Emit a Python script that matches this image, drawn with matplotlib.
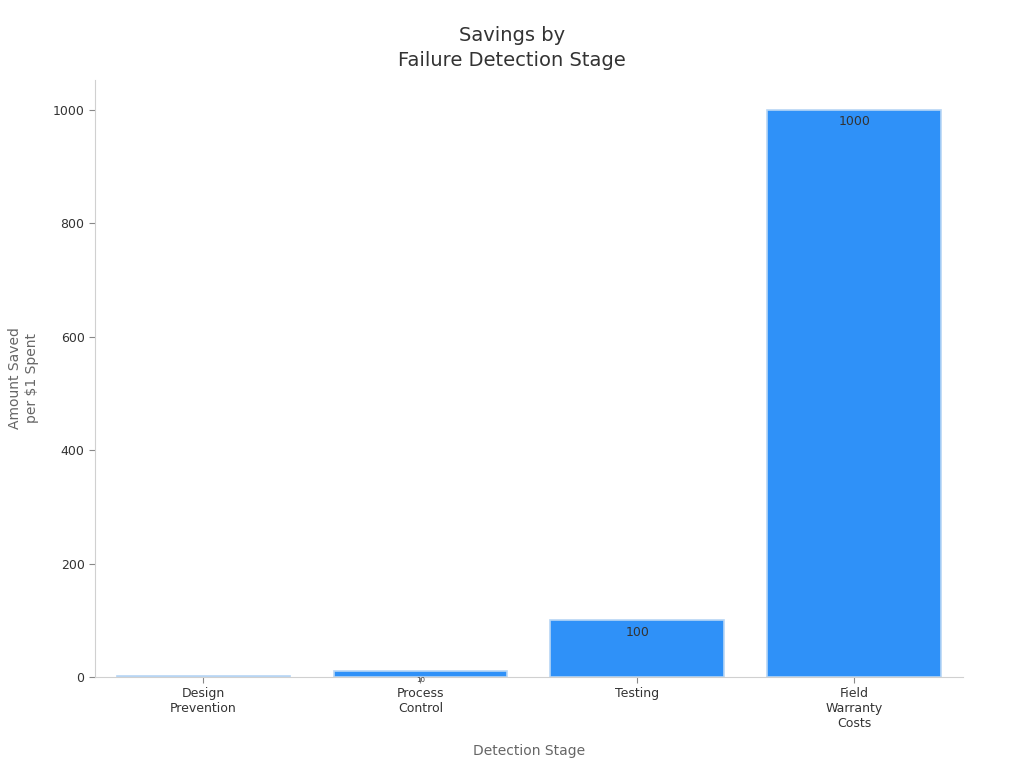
import matplotlib
matplotlib.use("Agg")
import matplotlib.pyplot as plt

stages = ["Design\nPrevention", "Process\nControl", "Testing", "Field\nWarranty\nCosts"]
savings = [1, 10, 100, 1000]
labels = ["", "10", "100", "1000"]

fig = plt.figure(figsize=(10.24, 7.68), dpi=100)
ax = fig.add_axes([0.0928, 0.1185, 0.8472, 0.7775])

bars = ax.bar(range(len(stages)), savings, width=0.8, color="#2f91f8",
              edgecolor="#b7d6f5", linewidth=1.2)
for b, v, t in zip(bars, savings, labels):
    ax.annotate(t, (b.get_x() + b.get_width() / 2, v), xytext=(0, -4),
                textcoords="offset points", ha="center", va="top",
                fontsize=9 if v >= 100 else 5, color="#333333")

ax.set_xlim(-0.5, 3.5)
ax.set_ylim(0, 1053)
ax.set_xticks(range(len(stages)))
ax.set_xticklabels(stages)
ax.set_yticks([0, 200, 400, 600, 800, 1000])

for s in ["top", "right"]:
    ax.spines[s].set_visible(False)
for s in ["left", "bottom"]:
    ax.spines[s].set_color("#d0d0d0")
ax.tick_params(colors="#333333", labelsize=9, length=4)
ax.tick_params(axis="both", color="#888888")

ax.set_title("Savings by\nFailure Detection Stage", fontsize=14, color="#333333",
             pad=10, linespacing=1.4, x=(0.5 - 0.0928) / 0.8472)
ax.set_xlabel("Detection Stage", fontsize=10, color="#666666", labelpad=10)
ax.set_ylabel("Amount Saved\nper \\$1 Spent", fontsize=10, color="#666666", labelpad=10,
              linespacing=1.3)

fig.savefig("out.png", dpi=100)
